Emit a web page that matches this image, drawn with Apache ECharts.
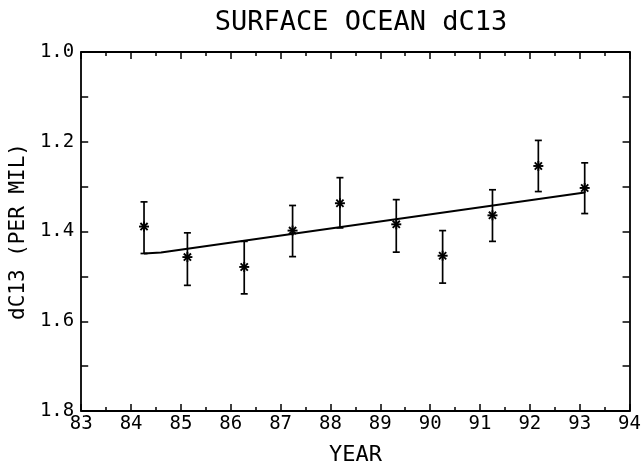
<!DOCTYPE html>
<html>
<head>
<meta charset="utf-8">
<script src="https://cdn.jsdelivr.net/npm/echarts@6/dist/echarts.min.js"></script>
<style>
html,body{margin:0;padding:0;background:#fff;}
#chart{width:644px;height:471px;}
</style>
</head>
<body>
<div id="chart"></div>
<script>
// Data
var years  = [84.26, 85.13, 86.27, 87.24, 88.19, 89.32, 90.25, 91.25, 92.17, 93.10];
var values = [1.389, 1.457, 1.479, 1.398, 1.337, 1.384, 1.454, 1.364, 1.254, 1.303];
var errTop = [1.334, 1.403, 1.422, 1.342, 1.280, 1.329, 1.398, 1.307, 1.197, 1.247];
var errBot = [1.449, 1.520, 1.539, 1.456, 1.392, 1.446, 1.515, 1.422, 1.311, 1.360];
var trendX = [84.26, 84.6, 93.10];
var trendY = [1.449, 1.447, 1.313];

var FONT = '"DejaVu Sans Mono", monospace';
var pointData = years.map(function (x, i) { return [x, values[i], errTop[i], errBot[i]]; });
var trendData = trendX.map(function (x, i) { return [x, trendY[i]]; });

var chart = echarts.init(document.getElementById('chart'), null, {renderer: 'canvas'});

function renderItem(params, api) {
  var c = api.coord([api.value(0), api.value(1)]);
  var t = api.coord([api.value(0), api.value(2)]);
  var b = api.coord([api.value(0), api.value(3)]);
  var cap = 3.5, s = 5, d = 3.6;
  var st = {stroke: '#000', lineWidth: 1.7, fill: null};
  var st2 = {stroke: '#000', lineWidth: 1.9, fill: null};
  return {
    type: 'group',
    children: [
      {type: 'line', shape: {x1: t[0], y1: t[1], x2: b[0], y2: b[1]}, style: st},
      {type: 'line', shape: {x1: t[0] - cap, y1: t[1], x2: t[0] + cap, y2: t[1]}, style: st},
      {type: 'line', shape: {x1: b[0] - cap, y1: b[1], x2: b[0] + cap, y2: b[1]}, style: st},
      {type: 'line', shape: {x1: c[0] - s, y1: c[1], x2: c[0] + s, y2: c[1]}, style: st2},
      {type: 'line', shape: {x1: c[0], y1: c[1] - s, x2: c[0], y2: c[1] + s}, style: st2},
      {type: 'line', shape: {x1: c[0] - d, y1: c[1] - d, x2: c[0] + d, y2: c[1] + d}, style: st2},
      {type: 'line', shape: {x1: c[0] - d, y1: c[1] + d, x2: c[0] + d, y2: c[1] - d}, style: st2}
    ]
  };
}

var axisLine = {show: true, onZero: false, lineStyle: {color: '#000', width: 1.8}};

chart.setOption({
  animation: false,
  backgroundColor: '#fff',
  title: {
    text: 'SURFACE OCEAN dC13',
    left: 356, top: 4, textAlign: 'center',
    textStyle: {fontFamily: FONT, fontSize: 27, fontWeight: 'normal', color: '#000'}
  },
  grid: {left: 80, right: 12, top: 52, bottom: 48},
  xAxis: [{
    type: 'value', position: 'bottom', min: 83, max: 94, interval: 1,
    name: 'YEAR', nameLocation: 'middle', nameGap: 33,
    nameTextStyle: {fontFamily: FONT, fontSize: 22, color: '#000'},
    axisLine: axisLine,
    axisTick: {show: true, inside: true, length: 7, lineStyle: {color: '#000', width: 1.5}},
    minorTick: {show: true, splitNumber: 2, length: 4, lineStyle: {color: '#000', width: 1.5}},
    axisLabel: {fontFamily: FONT, fontSize: 19, color: '#000', margin: 4, showMinLabel: true, showMaxLabel: true},
    splitLine: {show: false}
  }, {
    type: 'value', position: 'top', min: 83, max: 94, interval: 1,
    axisLine: axisLine,
    axisTick: {show: true, inside: true, length: 7, lineStyle: {color: '#000', width: 1.5}},
    minorTick: {show: true, splitNumber: 2, length: 4, lineStyle: {color: '#000', width: 1.5}},
    axisLabel: {show: false},
    splitLine: {show: false}
  }],
  yAxis: [{
    type: 'value', position: 'left', inverse: true, min: 1.0, max: 1.8, interval: 0.2,
    name: 'dC13 (PER MIL)', nameLocation: 'middle', nameGap: 37, nameRotate: 90,
    nameTextStyle: {fontFamily: FONT, fontSize: 21, color: '#000'},
    axisLine: axisLine,
    axisTick: {show: true, inside: true, length: 7, lineStyle: {color: '#000', width: 1.5}},
    minorTick: {show: true, splitNumber: 2, length: 7, lineStyle: {color: '#000', width: 1.5}},
    axisLabel: {fontFamily: FONT, fontSize: 19, color: '#000', margin: 7,
      formatter: function (v) { return v.toFixed(1); }},
    splitLine: {show: false}
  }, {
    type: 'value', position: 'right', inverse: true, min: 1.0, max: 1.8, interval: 0.2,
    axisLine: axisLine,
    axisTick: {show: true, inside: true, length: 7, lineStyle: {color: '#000', width: 1.5}},
    minorTick: {show: true, splitNumber: 2, length: 7, lineStyle: {color: '#000', width: 1.5}},
    axisLabel: {show: false},
    splitLine: {show: false}
  }],
  series: [{
    type: 'line', xAxisIndex: 0, yAxisIndex: 0,
    data: trendData, showSymbol: false, symbol: 'none',
    lineStyle: {color: '#000', width: 2}, z: 2
  }, {
    type: 'custom', xAxisIndex: 0, yAxisIndex: 0,
    renderItem: renderItem, data: pointData, z: 3
  }]
});
</script>
</body>
</html>
